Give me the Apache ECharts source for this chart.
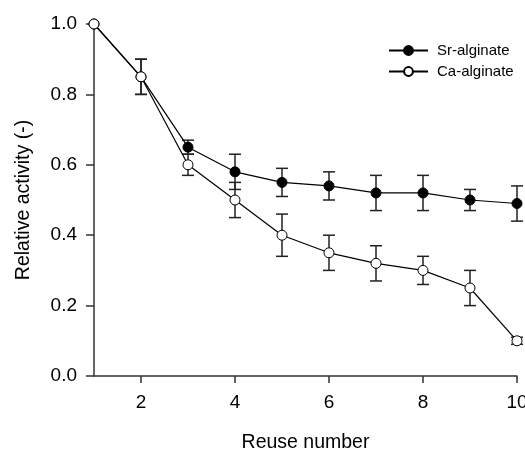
<!DOCTYPE html>
<html>
<head>
<meta charset="utf-8">
<script src="https://cdn.jsdelivr.net/npm/echarts@6/dist/echarts.min.js"></script>
<style>html,body{margin:0;padding:0;background:#fff;}#c{width:525px;height:454px;}</style>
</head>
<body>
<div id="c"></div>
<script>
var reuse = [1, 2, 3, 4, 5, 6, 7, 8, 9, 10];
var srValues = [1.00, 0.85, 0.65, 0.58, 0.55, 0.54, 0.52, 0.52, 0.50, 0.49];
var srErrors = [0, 0.05, 0.02, 0.05, 0.04, 0.04, 0.05, 0.05, 0.03, 0.05];
var caValues = [1.00, 0.85, 0.60, 0.50, 0.40, 0.35, 0.32, 0.30, 0.25, 0.10];
var caErrors = [0, 0.05, 0.03, 0.05, 0.06, 0.05, 0.05, 0.04, 0.05, 0.01];
var xTicks = [2, 4, 6, 8, 10];
var yTicks = [0, 0.2, 0.4, 0.6, 0.8, 1.0];

var FONT = 'Liberation Sans';

function pairs(vals) { return reuse.map(function (x, i) { return [x, vals[i]]; }); }
function errData(vals, errs) { return reuse.map(function (x, i) { return [x, vals[i] - errs[i], vals[i] + errs[i]]; }); }

function errRender(params, api) {
  var x = api.value(0), lo = api.value(1), hi = api.value(2);
  if (hi - lo <= 0) return null;
  var p1 = api.coord([x, hi]), p2 = api.coord([x, lo]);
  var hw = 6;
  var st = { stroke: '#222', lineWidth: 1.5 };
  return {
    type: 'group',
    children: [
      { type: 'line', shape: { x1: p1[0], y1: p1[1], x2: p2[0], y2: p2[1] }, style: st },
      { type: 'line', shape: { x1: p1[0] - hw, y1: p1[1], x2: p1[0] + hw, y2: p1[1] }, style: st },
      { type: 'line', shape: { x1: p2[0] - hw, y1: p2[1], x2: p2[0] + hw, y2: p2[1] }, style: st }
    ]
  };
}

var chart = echarts.init(document.getElementById('c'), null, { renderer: 'canvas' });
chart.setOption({
  animation: false,
  backgroundColor: '#fff',
  grid: { left: 94, right: 8, top: 24, bottom: 78, containLabel: false, outerBoundsMode: 'none' },
  legend: {
    orient: 'vertical',
    left: 388,
    top: 43,
    padding: 0,
    itemWidth: 39,
    itemHeight: 11,
    itemGap: 6,
    textStyle: { fontFamily: FONT, fontSize: 15, color: '#000', padding: [0, 0, 0, 4] },
    data: ['Sr-alginate', 'Ca-alginate']
  },
  xAxis: {
    type: 'value',
    min: 1,
    max: 10,
    name: 'Reuse number',
    nameLocation: 'middle',
    nameGap: 57,
    nameTextStyle: { fontFamily: FONT, fontSize: 19.5, color: '#000' },
    splitLine: { show: false },
    axisLine: { show: true, onZero: false, lineStyle: { color: '#333', width: 1.5 } },
    axisTick: { show: true, length: 7, customValues: xTicks, lineStyle: { color: '#333', width: 1.5 } },
    axisLabel: { customValues: xTicks, margin: 17, fontFamily: FONT, fontSize: 19, color: '#000', hideOverlap: false }
  },
  yAxis: {
    type: 'value',
    min: 0,
    max: 1,
    interval: 0.2,
    name: 'Relative activity (-)',
    nameLocation: 'middle',
    nameGap: 60,
    nameTextStyle: { fontFamily: FONT, fontSize: 19.5, color: '#000' },
    splitLine: { show: false },
    axisLine: { show: true, lineStyle: { color: '#333', width: 1.5 } },
    axisTick: { show: true, length: 8, lineStyle: { color: '#333', width: 1.5 } },
    axisLabel: { margin: 17, fontFamily: FONT, fontSize: 19, color: '#000',
      formatter: function (v) { return v.toFixed(1); } }
  },
  series: [
    { type: 'custom', name: 'srErr', renderItem: errRender, data: errData(srValues, srErrors), z: 1, silent: true },
    { type: 'custom', name: 'caErr', renderItem: errRender, data: errData(caValues, caErrors), z: 1, silent: true },
    {
      type: 'line', name: 'Sr-alginate', data: pairs(srValues), z: 3,
      symbol: 'circle', symbolSize: 10, showAllSymbol: true,
      lineStyle: { color: '#000', width: 1.2 },
      itemStyle: { color: '#000', borderColor: '#000', borderWidth: 1 }
    },
    {
      type: 'line', name: 'Ca-alginate', data: pairs(caValues), z: 4,
      symbol: 'circle', symbolSize: 10, showAllSymbol: true,
      lineStyle: { color: '#000', width: 1.2 },
      itemStyle: { color: '#fff', borderColor: '#000', borderWidth: 1 }
    }
  ]
});
</script>
</body>
</html>
